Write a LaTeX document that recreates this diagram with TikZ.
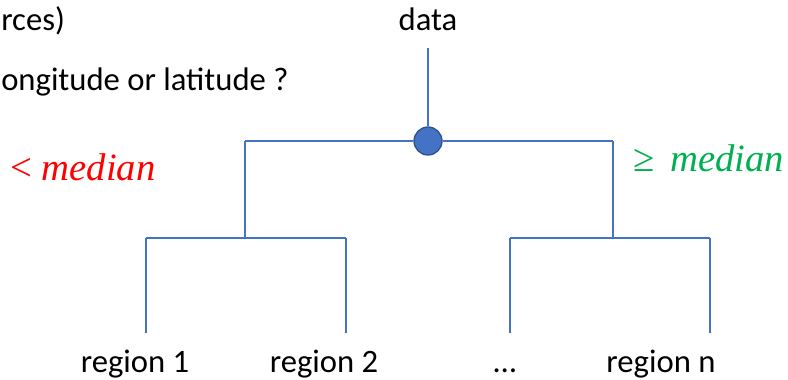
\documentclass[tikz,border=0pt]{standalone}
\usepackage{fontspec}
\setmainfont{Carlito}
\newfontfamily\mathlike{Liberation Serif}
\definecolor{treeblue}{HTML}{4472C4}
\definecolor{nodeedge}{HTML}{2F528F}
\definecolor{lowred}{HTML}{FF0000}
\definecolor{highgreen}{HTML}{00B050}
\begin{document}
\begin{tikzpicture}[x=0.75pt,y=-0.75pt,
  branch/.style={draw=treeblue,line width=0.9pt},
  lbl/.style={font=\fontsize{24.5}{28}\selectfont,inner sep=0pt},
  cond/.style={font=\mathlike\itshape\fontsize{29}{34}\selectfont,inner sep=0pt}]
\useasboundingbox (0,0) rectangle (788,379);
% caption text on the left
\node[lbl,anchor=base west] (t1) at (1,30) {rces)};
\node[lbl,anchor=base west] (t2) at (1,90) {ongitude or latitude ?};
% root and split point
\node[lbl,anchor=base] (data) at (428,30) {data};
\node[circle,fill=treeblue,draw=nodeedge,line width=1pt,minimum size=21pt,inner sep=0pt] (split) at (428,141) {};
\coordinate (lt) at (245,141);
\coordinate (rt) at (613,141);
\coordinate (l) at (245,238);
\coordinate (r) at (613,238);
\coordinate (ll) at (146,238);
\coordinate (lr) at (346,238);
\coordinate (rl) at (510,238);
\coordinate (rr) at (710,238);
% leaves
\node[lbl,anchor=base] (r1) at (135,372) {region 1};
\node[lbl,anchor=base] (r2) at (324,372) {region 2};
\node[lbl,anchor=base] (rd) at (505,372) {\dots};
\node[lbl,anchor=base] (rn) at (661,372) {region n};
% condition labels
\node[cond,text=lowred,anchor=base] (lo) at (83,180) {{\upshape<} median};
\node[cond,text=highgreen,anchor=base] (hi) at (709,171) {{\upshape≥}\hspace{0.4em}median};
% branches
\draw[branch] (428,48) -- (split);
\draw[branch] (lt) -- (split.west);
\draw[branch] (split.east) -- (rt);
\draw[branch] (lt) -- (l);
\draw[branch] (rt) -- (r);
\draw[branch] (ll) -- (lr);
\draw[branch] (rl) -- (rr);
\draw[branch] (ll) -- (146,333);
\draw[branch] (lr) -- (346,333);
\draw[branch] (rl) -- (510,333);
\draw[branch] (rr) -- (710,333);
\end{tikzpicture}
\end{document}
